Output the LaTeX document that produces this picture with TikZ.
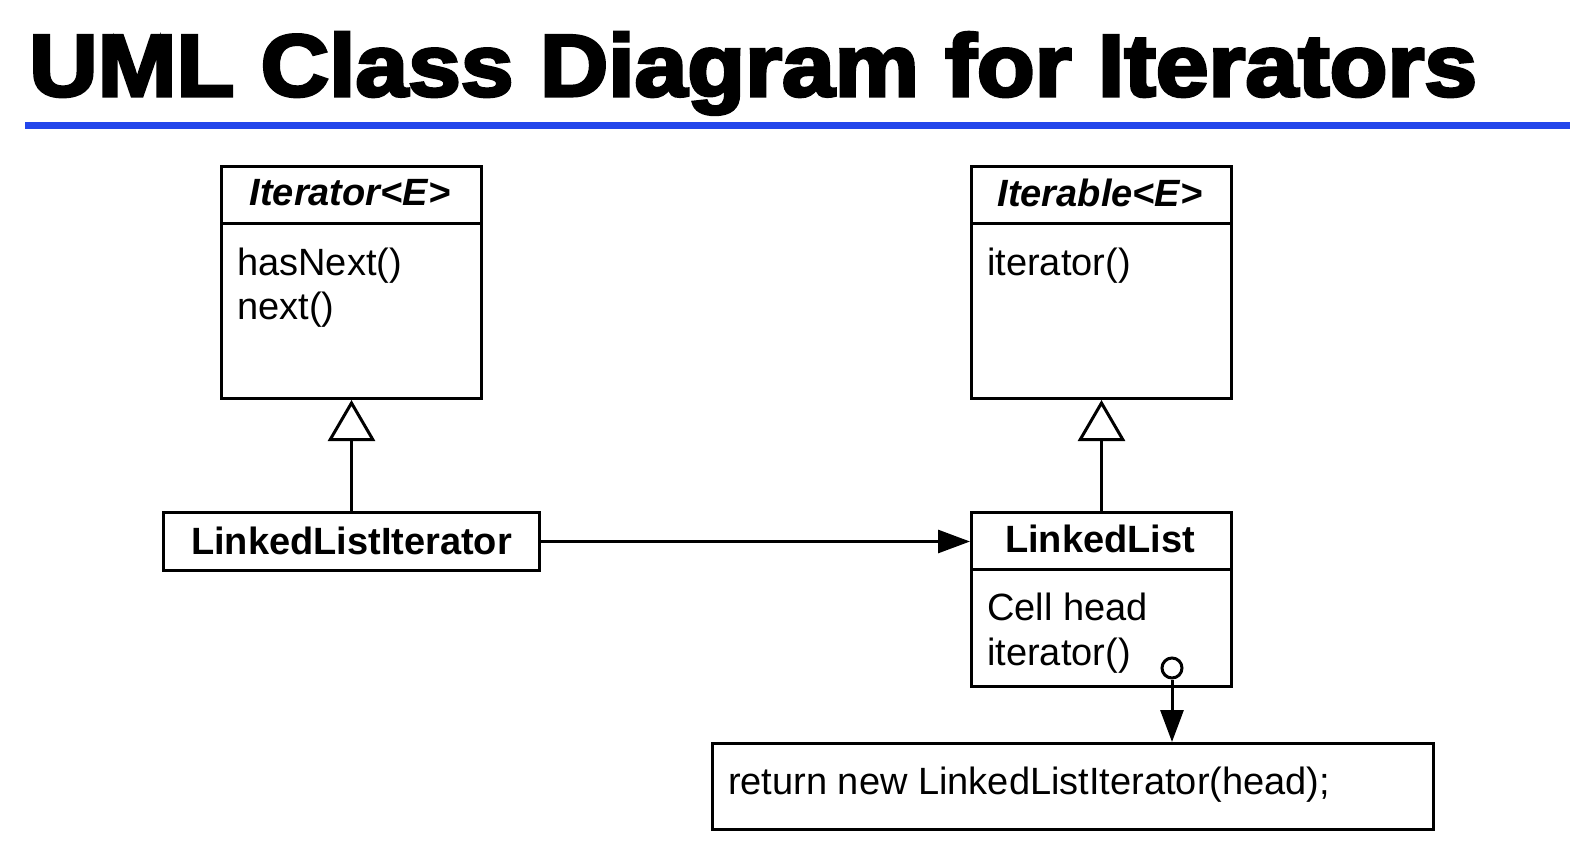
\documentclass[tikz,border=0pt]{standalone}
\usepackage{fontspec}
\usepackage{graphicx}
\setmainfont{Liberation Sans}
\newfontfamily\titlefont[AutoFakeBold=3.5]{Liberation Sans Bold}
\usetikzlibrary{arrows.meta}
\definecolor{rulecol}{RGB}{35,70,235}
\tikzset{
  ln/.style={line width=3pt},
  box/.style={draw, line width=3pt, anchor=north west, inner sep=0pt, fill=white},
  txt/.style={inner sep=0pt, font=\fontsize{38pt}{44pt}\selectfont},
  member/.style={txt, anchor=base west},
  gen/.style={line width=3pt, -{Triangle[open, length=41pt, width=47pt, fill=white]}},
  assoc/.style={line width=3pt, -{Triangle[length=32pt, width=23pt]}},
}
\begin{document}
\begin{tikzpicture}[x=1pt, y=-1pt]
\useasboundingbox (0,0) rectangle (1580,848);
% title
\node[anchor=base west, inner sep=0pt] (title) at (29,96)
  {\resizebox{1448pt}{\height}{\fontsize{88pt}{92pt}\titlefont\bfseries UML Class Diagram for Iterators}};
\fill[rulecol] (25,122) rectangle (1570,129);

% Iterator<E>
\node[box, minimum width=260pt, minimum height=232pt] (itr) at (220,165) {};
\draw[ln] ([yshift=-58pt]itr.north west) -- ([yshift=-58pt]itr.north east);
\node[txt] (itrname) at (350,193) {\bfseries\itshape Iterator<E>};
\node[member] (itrm1) at (237,275) {hasNext()};
\node[member] (itrm2) at (237,319) {next()};

% Iterable<E>
\node[box, minimum width=260pt, minimum height=232pt] (itb) at (970,165) {};
\draw[ln] ([yshift=-58pt]itb.north west) -- ([yshift=-58pt]itb.north east);
\node[txt] (itbname) at (1100,193) {\bfseries\itshape Iterable<E>};
\node[member] (itbm1) at (987,275) {iterator()};

% LinkedListIterator
\node[box, minimum width=376pt, minimum height=58pt] (lli) at (162,511) {};
\node[txt] (lliname) at ([yshift=1pt]lli.center) {\bfseries LinkedListIterator};

% LinkedList
\node[box, minimum width=260pt, minimum height=174pt] (ll) at (970,511) {};
\draw[ln] ([yshift=-58pt]ll.north west) -- ([yshift=-58pt]ll.north east);
\node[txt] (llname) at (1100,539) {\bfseries LinkedList};
\node[member] (llm1) at (987,620) {Cell head};
\node[member] (llm2) at (987,665) {iterator()};

% note box
\node[box, minimum width=721pt, minimum height=86pt] (ret) at (711,742) {};
\node[member] (rettext) at (728,794) {return new LinkedListIterator(head);};

% connectors
\draw[gen] (lli.north) -- (itr.south);
\draw[gen] (ll.north) -- (itb.south);
\draw[assoc] (lli.east) -- (lli.east -| ll.west);
\node[circle, draw, line width=3pt, minimum size=20pt, inner sep=0pt, fill=white] (dot) at (1172,668) {};
\draw[assoc] (dot.south) -- (dot.south |- ret.north);
\end{tikzpicture}
\end{document}
